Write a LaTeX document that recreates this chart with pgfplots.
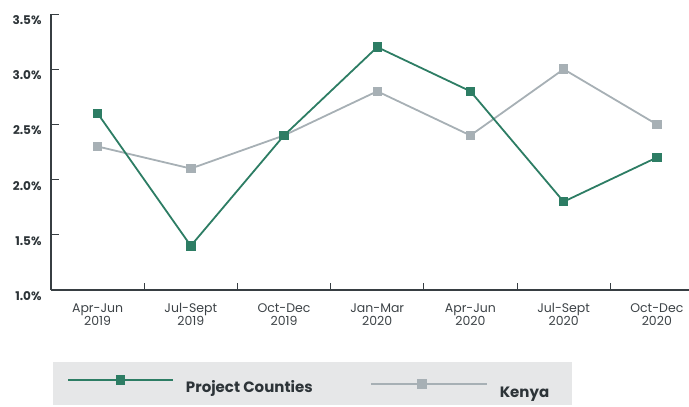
\documentclass[border=0pt]{standalone}
\usepackage{pgfplots}
\pgfplotsset{compat=1.18}
\usepackage{fontspec}
\setmainfont{Poppins}
\definecolor{pcgreen}{RGB}{45,125,100}
\definecolor{kgray}{RGB}{167,176,181}
\definecolor{legbg}{RGB}{230,231,232}
\definecolor{ytext}{RGB}{45,52,56}
\definecolor{xtext}{RGB}{60,66,70}
\definecolor{axisc}{RGB}{55,62,66}
\pgfplotsset{
  kimage/.style={legend image code/.code={\draw[mark repeat=2, mark phase=2, ##1] plot coordinates {(0bp,0bp) (51bp,0bp) (116bp,0bp)};}},
  gimage/.style={legend image code/.code={\draw[mark repeat=2, mark phase=2, ##1] plot coordinates {(0bp,4bp) (52.5bp,4bp) (105bp,4bp)};}},
}
\begin{document}
\begin{tikzpicture}
\path[use as bounding box] (-51bp,-117bp) rectangle (638bp,290bp);
\begin{axis}[
  at={(0,0)}, anchor=south west,
  scale only axis, width=638bp, height=276bp,
  xmin=-0.5, xmax=6.345, ymin=1, ymax=3.5,
  axis x line*=bottom, axis y line*=left,
  axis line style={draw=axisc, line width=1.1bp, -},
  tick align=inside,
  tick style={draw=axisc, line width=0.9bp},
  xtick={0,...,6},
  xticklabels={{Apr-Jun\\2019},{Jul-Sept\\2019},{Oct-Dec\\2019},{Jan-Mar\\2020},{Apr-Jun\\2020},{Jul-Sept\\2020},{Oct-Dec\\2020}},
  xticklabel style={align=center, font=\fontsize{12.5bp}{13bp}\selectfont, text=xtext, yshift=-10bp},
  major x tick style={draw=none},
  minor xtick={0.5,1.5,...,5.5},
  minor tick length=7bp,
  major tick length=8.5bp,
  ytick={1,1.5,...,3.5},
  yticklabel={\pgfmathprintnumber[fixed,fixed zerofill,precision=1]{\tick}\%},
  yticklabel style={font=\bfseries\fontsize{12bp}{13bp}\selectfont, text=ytext, xshift=-6bp, yshift=-6bp},
  /pgf/number format/assume math mode=true,
  clip=false,
  reverse legend,
  legend columns=2,
  legend style={at={(0.0031,-0.2609)}, anchor=north west, fill=legbg, draw=none,
    inner xsep=14bp, inner ysep=14bp,
    font=\bfseries\fontsize{15bp}{17bp}\selectfont, text=ytext,
    nodes={inner sep=0pt, text height=10bp, text depth=3bp},
    /tikz/every odd column/.append style={column sep=12bp},
    /tikz/every even column/.append style={column sep=55bp}},
]
\addplot[kgray, line width=1.8bp, mark=square*, mark size=3.8bp, mark options={solid, fill=kgray, draw=kgray}, kimage]
  coordinates {(0,2.3)(1,2.1)(2,2.4)(3,2.8)(4,2.4)(5,3.0)(6,2.5)};
\addlegendentry{\raisebox{-10bp}{\makebox[58bp][l]{Kenya}}}
\addplot[pcgreen, line width=1.8bp, mark=square*, mark size=3.8bp, mark options={solid, fill=pcgreen, draw=pcgreen}, gimage]
  coordinates {(0,2.6)(1,1.4)(2,2.4)(3,3.2)(4,2.8)(5,1.8)(6,2.2)};
\addlegendentry{\raisebox{-5bp}{\makebox[129bp][l]{Project Counties}}}
\end{axis}
\end{tikzpicture}
\end{document}
